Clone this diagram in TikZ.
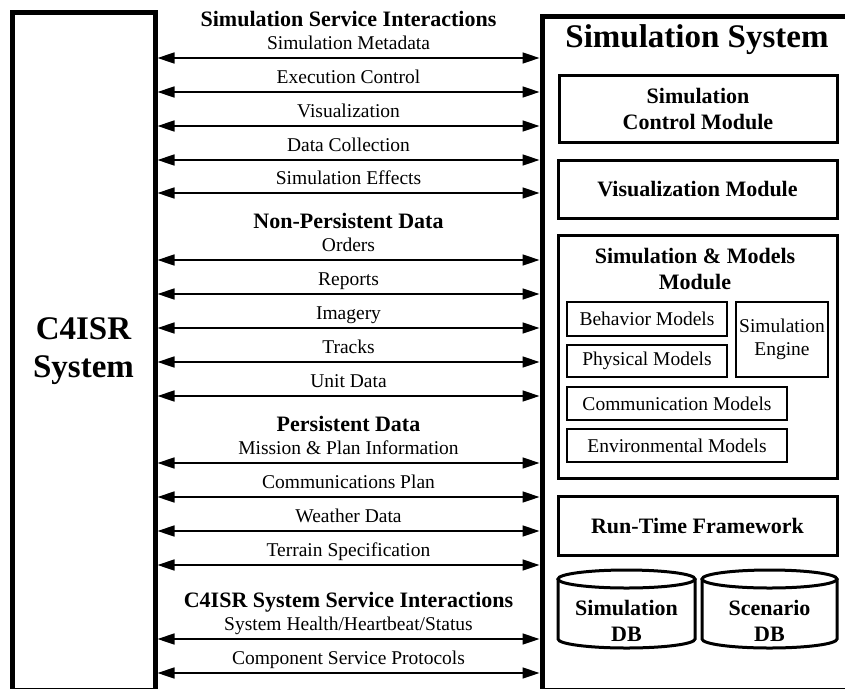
\documentclass[tikz,border=0pt]{standalone}
\usepackage{fontspec}
\setmainfont{Liberation Serif}
\usetikzlibrary{arrows.meta}

\begin{document}
\begin{tikzpicture}[x=1pt,y=-1pt,
        lbl/.style={font=\fontsize{19.5}{23}\selectfont, inner sep=0pt},
        grouphead/.style={font=\fontsize{22}{26}\selectfont\bfseries, inner sep=0pt},
        bigtitle/.style={font=\fontsize{33}{38}\selectfont\bfseries, align=center, inner sep=0pt},
        sysbox/.style={draw, line width=5pt, inner sep=0pt},
        modbox/.style={draw, line width=3pt, font=\fontsize{22}{26}\selectfont\bfseries, align=center, inner sep=0pt},
        partbox/.style={draw, line width=2pt, font=\fontsize{19.5}{23}\selectfont, align=center, inner sep=0pt},
        dbline/.style={line width=3pt},
        link/.style={{Triangle[length=17pt,width=11pt]}-{Triangle[length=17pt,width=11pt]}, line width=1.5pt}]
        \useasboundingbox (0,0) rectangle (845,688);
        \clip (0,0) rectangle (845,688);

        % the two systems
        \node[sysbox, bigtitle, minimum width=143, minimum height=678] (c4isr) at (83.5,351) {C4ISR\\System};
        \node[sysbox, minimum width=330, minimum height=674] (simsys) at (707,353) {};
        \node[bigtitle, anchor=base] (simtitle) at (697,47) {Simulation System};

        % modules of the simulation system
        \node[modbox, minimum width=278, minimum height=67] (ctrl) at (698,108.5) {Simulation\\Control Module};
        \node[modbox, minimum width=279, minimum height=58] (vismod) at (697.5,189) {Visualization Module};
        \node[modbox, minimum width=279, minimum height=243] (simmod) at (697.5,356.5) {};
        \node[grouphead, align=center] (simmodtitle) at (695,269) {Simulation \& Models\\Module};
        \node[partbox, minimum width=160, minimum height=34] (behav) at (647,319) {Behavior Models};
        \node[partbox, minimum width=160, minimum height=32] (phys) at (647,361) {Physical Models};
        \node[partbox, minimum width=92, minimum height=75] (engine) at (782,339.5) {Simulation\\Engine};
        \node[partbox, minimum width=220, minimum height=33] (comm) at (677,403.5) {Communication Models};
        \node[partbox, minimum width=220, minimum height=33] (env) at (677,445.5) {Environmental Models};
        \node[modbox, minimum width=279, minimum height=59] (rtf) at (697.5,525.5) {Run-Time Framework};

        % databases
        \draw[dbline] (558,579) -- (558,639) arc[start angle=180, end angle=0, x radius=68.5, y radius=9] -- (695,579);
        \draw[dbline] (626.5,579) ellipse [x radius=68.5, y radius=9];
        \node[modbox, draw=none, align=center] (simdb) at (626.5,621) {Simulation\\DB};
        \draw[dbline] (702,579) -- (702,639) arc[start angle=180, end angle=0, x radius=67.5, y radius=9] -- (837,579);
        \draw[dbline] (769.5,579) ellipse [x radius=67.5, y radius=9];
        \node[modbox, draw=none, align=center] (scendb) at (769.5,621) {Scenario\\DB};

        % interactions
        \node[grouphead, anchor=base] (head1) at (348.5,26) {Simulation Service Interactions};
        \node[grouphead, anchor=base] (head2) at (348.5,228) {Non-Persistent Data};
        \node[grouphead, anchor=base] (head3) at (348.5,431) {Persistent Data};
        \node[grouphead, anchor=base] (head4) at (348.5,607) {C4ISR System Service Interactions};
        \foreach \y/\txt [count=\i] in {58/Simulation Metadata, 92/Execution Control,
                126/Visualization, 160/Data Collection, 193/Simulation Effects,
                260/Orders, 294/Reports, 328/Imagery, 362/Tracks, 396/Unit Data,
                463/Mission \& Plan Information, 497/Communications Plan,
                531/Weather Data, 565/Terrain Specification,
                639/{System Health/Heartbeat/Status}, 673/Component Service Protocols}{
            \node[lbl, anchor=base] (lbl\i) at (348.5,\y-9) {\txt};
            \coordinate (a\i) at (348.5,\y);
            \draw[link] (a\i -| c4isr.east) -- (a\i -| simsys.west);
        }
    \end{tikzpicture}
\end{document}
